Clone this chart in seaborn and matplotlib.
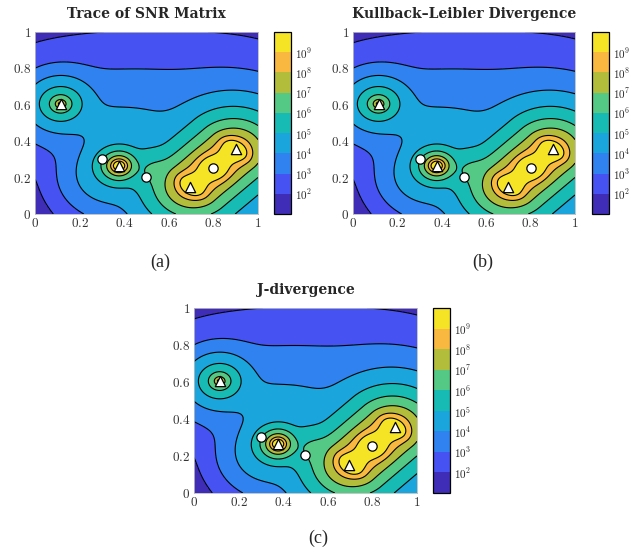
import numpy as np
import matplotlib
matplotlib.use("Agg")
import matplotlib.pyplot as plt
from matplotlib.colors import ListedColormap
import seaborn as sns

# ---- text ----
titles = ["Trace of SNR Matrix", "Kullback–Leibler Divergence", "J-divergence"]
tags = ["(a)", "(b)", "(c)"]

# ---- markers (targets = triangles, sensors = circles) ----
tri_x = [0.115, 0.377, 0.697, 0.900]
tri_y = [0.605, 0.265, 0.149, 0.357]
dot_x = [0.300, 0.498, 0.800]
dot_y = [0.303, 0.203, 0.254]

# ---- colour scale: one band per decade, 1e1 .. 1e10 ----
level_exp = [1, 2, 3, 4, 5, 6, 7, 8, 9, 10]
band_colors = ["#3f2db8", "#4752f2", "#2f82f0", "#1aa6dc", "#17bbb4",
               "#54c985", "#b2bd3c", "#f9b83f", "#f5e425"]
cbar_ticks = [2, 3, 4, 5, 6, 7, 8, 9]
axis_ticks = [0, 0.2, 0.4, 0.6, 0.8, 1]

# ---- field (log10 amplitudes) ----
# elongated peak around the two right-hand targets
ridge_c = (0.800, 0.253)
ridge_dir = (0.203, 0.208)
ridge_half = 0.128
ridge_k, ridge_p, ridge_d0 = 0.25, 9.0, 0.05
# isolated peaks: middle target, left target
mid_xy, mid_k, mid_p = (0.377, 0.265), -0.96, 6.5
left_xy, left_k, left_p, left_w = (0.115, 0.605), 1.9, 3.3, 0.10
# soft shoulders between the peaks
bump_xy = [(0.32, 0.20), (0.53, 0.24), (0.30, 0.48), (0.47, 0.47)]
bump_k = [4.4, 6.0, 3.9, 3.9]
bump_w = [0.08, 0.05, 0.10, 0.10]
base_k = 3.6


def field(X, Y):
    ux, uy = np.array(ridge_dir) / np.hypot(*ridge_dir)
    dx, dy = X - ridge_c[0], Y - ridge_c[1]
    t = dx * ux + dy * uy
    n = -dx * uy + dy * ux
    d = np.hypot(np.maximum(np.abs(t) - ridge_half, 0), n)
    d = d - 0.014 * np.exp(-(d / 0.07) ** 2) * np.cos(2 * np.pi * t / 0.145)
    d = np.maximum(d, 0.0)
    F = 10 ** (ridge_k - ridge_p * np.log10(d + ridge_d0))

    r = np.hypot(X - mid_xy[0], Y - mid_xy[1]) + 0.004
    F += 10 ** mid_k * r ** -mid_p
    r = np.hypot(X - left_xy[0], Y - left_xy[1]) + 0.004
    F += 10 ** left_k * r ** -left_p * np.exp(-r ** 2 / (2 * left_w ** 2))

    for (bx, by), k, w in zip(bump_xy, bump_k, bump_w):
        F += 10 ** k * np.exp(-((X - bx) ** 2 + (Y - by) ** 2) / (2 * w ** 2))

    # slowly varying floor: falls off toward the top and the lower left
    up = np.clip((Y - 0.55) / 0.45, 0, None)
    lo = np.clip((0.55 - Y) / 0.55, 0, None)
    wx = 1 - 0.38 * np.clip((Y - 0.8) / 0.2, 0, 1)
    b = (base_k - 1.6 * up ** 1.5 - 4.5 * lo ** 2
         - 0.85 * ((X - 0.42) / 0.58) ** 2 * wx)
    F += 10 ** b
    return np.clip(np.log10(F), 1.001, 9.999)


sns.set_style("white")
plt.rcParams["font.family"] = ["Liberation Serif", "DejaVu Serif"]
plt.rcParams["mathtext.fontset"] = "cm"

gx = np.linspace(0, 1, 121)
X, Y = np.meshgrid(gx, gx)
Z = field(X, Y)
cmap = ListedColormap(band_colors)

W, H = 642, 551
fig = plt.figure(figsize=(W / 100, H / 100), dpi=100)

# pixel boxes: axes (left, top, right, bottom), colorbar (left, right)
boxes = [((35, 32, 258, 214), (274, 291)),
         ((353, 32, 575, 214), (592, 609)),
         ((194, 308, 417, 493), (433, 450))]
tag_pos = [(160, 262), (483, 262), (318, 538)]

for i, ((l, t, r, b), (cl, cr)) in enumerate(boxes):
    ax = fig.add_axes([l / W, 1 - b / H, (r - l) / W, (b - t) / H])
    cf = ax.contourf(X, Y, Z, levels=level_exp, cmap=cmap)
    ax.contour(X, Y, Z, levels=level_exp[1:-1], colors="k", linewidths=0.8)
    sns.scatterplot(x=dot_x, y=dot_y, marker="o", s=45, color="white",
                    edgecolor="black", linewidth=0.9, ax=ax, zorder=5)
    sns.scatterplot(x=tri_x, y=tri_y, marker="^", s=55, color="white",
                    edgecolor="black", linewidth=0.9, ax=ax, zorder=5)
    ax.set_xlim(0, 1)
    ax.set_ylim(0, 1)
    ax.set_xticks(axis_ticks)
    ax.set_yticks(axis_ticks)
    ax.set_xticklabels([f"${v:g}$" for v in axis_ticks], fontsize=9.5)
    ax.set_yticklabels([f"${v:g}$" for v in axis_ticks], fontsize=9.5)
    ax.tick_params(length=0, pad=2.5, colors="#333333")
    for s in ax.spines.values():
        s.set_color("#bbbbbb")
        s.set_linewidth(0.6)
    ax.set_title(titles[i], fontsize=10, fontweight="bold",
                 family="DejaVu Serif", pad=10)

    cax = fig.add_axes([cl / W, 1 - b / H, (cr - cl) / W, (b - t) / H])
    cb = fig.colorbar(cf, cax=cax, ticks=cbar_ticks)
    cb.ax.set_yticklabels([f"$10^{{{k}}}$" for k in cbar_ticks], fontsize=8)
    cb.ax.tick_params(direction="in", length=4, width=0.8, color="#777777",
                      left=True, right=True, pad=3)
    cb.outline.set_linewidth(0.9)
    cb.outline.set_edgecolor("black")

    tx, ty = tag_pos[i]
    fig.text(tx / W, 1 - ty / H, tags[i], ha="center", va="center", fontsize=13)

fig.savefig("out.png", dpi=100)
